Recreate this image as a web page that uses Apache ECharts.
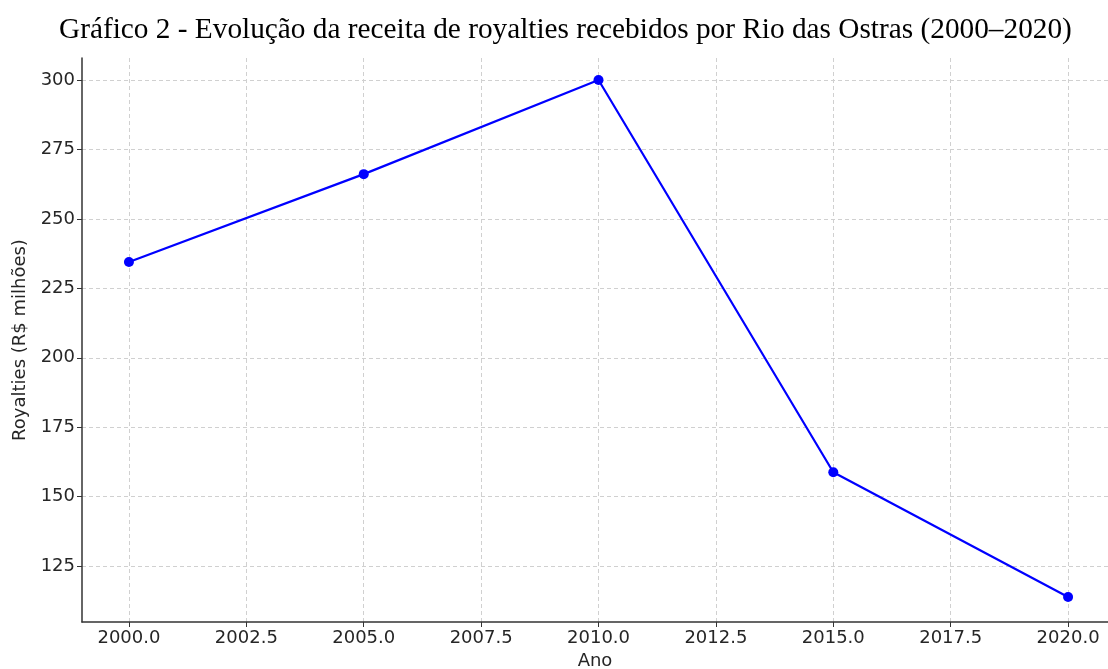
<!DOCTYPE html>
<html>
<head>
<meta charset="utf-8">
<script src="https://cdn.jsdelivr.net/npm/echarts@6/dist/echarts.min.js"></script>
<style>html,body{margin:0;padding:0;background:#fff;overflow:hidden}#c{width:1108px;height:669px}</style>
</head>
<body>
<div id="c"></div>
<script>
const years = [2000, 2005, 2010, 2015, 2020];
const royalties = [234.5, 266.1, 300.0, 158.8, 113.9];
const xTicks = [2000, 2002.5, 2005, 2007.5, 2010, 2012.5, 2015, 2017.5, 2020];
const yTicks = [125, 150, 175, 200, 225, 250, 275, 300];
const titleText = 'Gráfico 2 - Evolução da receita de royalties recebidos por Rio das Ostras (2000–2020)';

const chart = echarts.init(document.getElementById('c'), null, {renderer: 'canvas'});
const gridLine = {show: true, lineStyle: {color: '#d0d0d0', type: [4, 3], width: 1}};
const tickFont = {fontFamily: "'DejaVu Sans'", fontSize: 18, color: '#262626'};
chart.setOption({
  animation: false,
  title: {
    text: titleText, left: 54, top: 11,
    textStyle: {fontFamily: "'Liberation Serif'", fontWeight: 'normal', fontSize: 29.3, color: '#000'}
  },
  grid: {left: 82, right: 0, top: 58, bottom: 47, containLabel: false, outerBoundsMode: 'none'},
  xAxis: {
    type: 'value', min: 1999, max: 2020.85,
    name: 'Ano', nameLocation: 'middle', nameGap: 29,
    nameTextStyle: tickFont,
    axisLine: {show: true, lineStyle: {color: '#333', width: 1.5}},
    axisTick: {show: true, length: 5, customValues: xTicks, lineStyle: {color: '#333'}},
    axisLabel: Object.assign({customValues: xTicks, margin: 7, formatter: v => v.toFixed(1)}, tickFont),
    splitLine: gridLine
  },
  yAxis: {
    type: 'value', min: 104.9, max: 307.9,
    name: 'Royalties (R$ milhões)', nameLocation: 'middle', nameGap: 47, nameRotate: 90,
    nameTextStyle: tickFont,
    axisLine: {show: true, lineStyle: {color: '#333', width: 1.5}},
    axisTick: {show: true, length: 5, customValues: yTicks, lineStyle: {color: '#333'}},
    axisLabel: Object.assign({customValues: yTicks, margin: 7}, tickFont),
    splitLine: gridLine
  },
  series: [{
    type: 'line',
    data: years.map((y, i) => [y, royalties[i]]),
    lineStyle: {color: '#0000ff', width: 2.2},
    itemStyle: {color: '#0000ff'},
    symbol: 'circle', symbolSize: 10, showSymbol: true,
    clip: false
  }]
});
</script>
</body>
</html>
